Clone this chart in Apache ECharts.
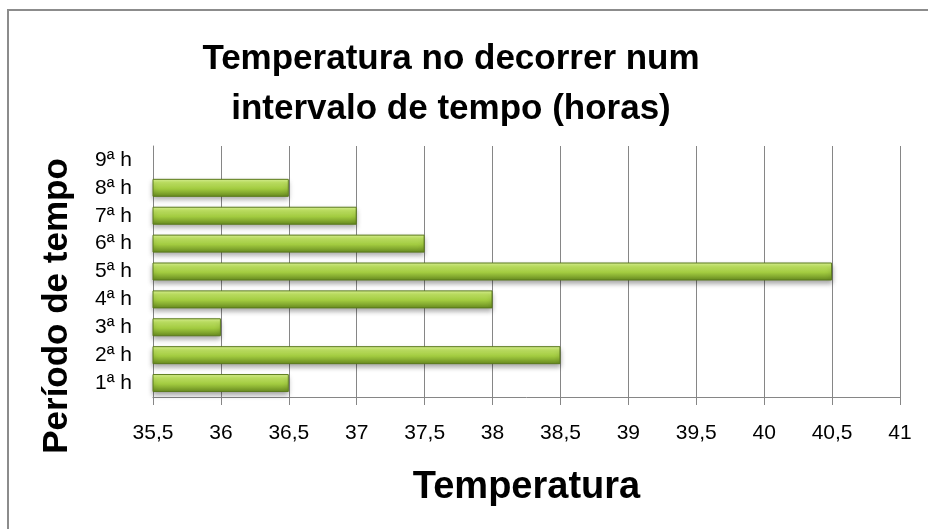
<!DOCTYPE html>
<html>
<head>
<meta charset="utf-8">
<script src="https://cdn.jsdelivr.net/npm/echarts@6/dist/echarts.min.js"></script>
<style>
  html, body { margin: 0; padding: 0; background: #fff; }
  #chart { width: 928px; height: 529px; }
</style>
</head>
<body>
<div id="chart"></div>
<script>
// Hours of the period (bottom to top) and the temperature reached in each one
const periods = ['1ª h', '2ª h', '3ª h', '4ª h', '5ª h', '6ª h', '7ª h', '8ª h', '9ª h'];
const temperatures = [36.5, 38.5, 36, 38, 40.5, 37.5, 37, 36.5, null];

// Temperature axis range
const tempMin = 35.5;
const tempMax = 41;
const tempStep = 0.5;

const FONT = '"Liberation Sans", Arial, sans-serif';

const chart = echarts.init(document.getElementById('chart'));

const barFill = new echarts.graphic.LinearGradient(0, 0, 0, 1, [
  { offset: 0, color: '#e0f79a' },
  { offset: 0.2, color: '#c4e866' },
  { offset: 0.55, color: '#a2cb40' },
  { offset: 1, color: '#66891f' }
]);

chart.setOption({
  animation: false,
  backgroundColor: '#ffffff',
  title: {
    text: 'Temperatura no decorrer num\nintervalo de tempo (horas)',
    left: 446,
    textAlign: 'center',
    top: 29,
    textStyle: {
      fontFamily: FONT,
      fontSize: 35,
      fontWeight: 'bold',
      lineHeight: 50,
      color: '#000'
    }
  },
  graphic: [
    {
      type: 'rect',
      shape: { x: 8, y: 10, width: 1000, height: 1000 },
      style: { fill: 'none', stroke: '#8c8c8c', lineWidth: 2 },
      silent: true
    },
    {
      type: 'text',
      x: 57,
      y: 306,
      rotation: Math.PI / 2,
      style: {
        text: 'Período de tempo',
        font: 'bold 35px ' + FONT,
        fill: '#000',
        textAlign: 'center',
        textVerticalAlign: 'middle'
      }
    }
  ],
  grid: {
    left: 153,
    right: 28,
    top: 146,
    bottom: 132,
    containLabel: false
  },
  xAxis: {
    type: 'value',
    min: tempMin,
    max: tempMax,
    interval: tempStep,
    name: 'Temperatura',
    nameLocation: 'middle',
    nameGap: 72,
    nameTextStyle: {
      fontFamily: FONT,
      fontSize: 38,
      fontWeight: 'bold',
      color: '#000'
    },
    axisLine: { show: true, lineStyle: { color: '#868686', width: 1 } },
    axisTick: { show: true, length: 8, lineStyle: { color: '#868686' } },
    axisLabel: {
      margin: 26,
      fontFamily: FONT,
      fontSize: 21,
      color: '#000',
      formatter: v => String(v).replace('.', ',')
    },
    splitLine: { show: true, lineStyle: { color: '#868686', width: 1 } }
  },
  yAxis: {
    type: 'category',
    data: periods,
    axisLine: { show: true, lineStyle: { color: '#868686', width: 1 } },
    axisTick: { show: false },
    axisLabel: {
      margin: 21,
      fontFamily: FONT,
      fontSize: 21,
      color: '#000'
    },
    splitLine: { show: false }
  },
  series: [
    {
      type: 'bar',
      data: temperatures,
      barWidth: 18,
      itemStyle: {
        color: barFill,
        borderColor: '#5b7a1c',
        borderWidth: 1,
        shadowColor: 'rgba(0,0,0,0.35)',
        shadowBlur: 5,
        shadowOffsetY: 3
      }
    }
  ]
});
</script>
</body>
</html>
